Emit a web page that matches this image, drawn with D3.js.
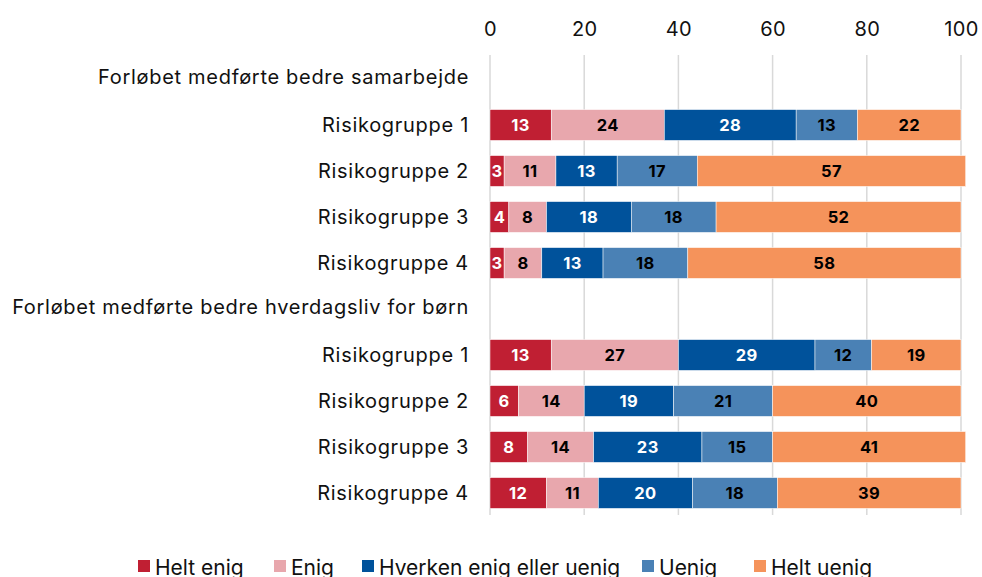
<!DOCTYPE html>
<html>
<head>
<meta charset="utf-8">
<script src="https://cdn.jsdelivr.net/npm/d3@7"></script>
<style>
  body { margin: 0; background: #fff; }
  svg { display: block; }
</style>
</head>
<body>
<svg></svg>
<script>
const WIDTH = 982;
const HEIGHT = 577;

// rows, headers have no values
const rows = [
  'Forløbet medførte bedre samarbejde',
  'Risikogruppe 1', 'Risikogruppe 2', 'Risikogruppe 3', 'Risikogruppe 4',
  'Forløbet medførte bedre hverdagsliv for børn',
  'Risikogruppe 1', 'Risikogruppe 2', 'Risikogruppe 3', 'Risikogruppe 4'
];
const isHeader = [true, false, false, false, false, true, false, false, false, false];

const series = ['Helt enig', 'Enig', 'Hverken enig eller uenig', 'Uenig', 'Helt uenig'];
const colors = ['#C01F33', '#E8A7AD', '#00529B', '#4A81B5', '#F5935B'];
const labelColors = ['#fff', '#000', '#fff', '#000', '#000'];

const heltEnig = [null, 13, 3, 4, 3, null, 13, 6, 8, 12];
const enig     = [null, 24, 11, 8, 8, null, 27, 14, 14, 11];
const hverken  = [null, 28, 13, 18, 13, null, 29, 19, 23, 20];
const uenig    = [null, 13, 17, 18, 18, null, 12, 21, 15, 18];
const heltUenig= [null, 22, 57, 52, 58, null, 19, 40, 41, 39];

const tickValues = [0, 20, 40, 60, 80, 100];

const values = [heltEnig, enig, hverken, uenig, heltUenig];

const svg = d3.select('svg')
  .attr('width', WIDTH)
  .attr('height', HEIGHT)
  .attr('font-family', 'Inter, sans-serif');

const xScale = d3.scaleLinear().domain([0, 100]).range([490, 961]);
const yScale = d3.scaleBand()
  .domain(d3.range(rows.length))
  .range([56, 516])
  .paddingInner(0.33)
  .paddingOuter(0.165);

// gridlines
svg.append('g')
  .selectAll('line')
  .data(tickValues)
  .enter()
  .append('line')
  .attr('x1', d => xScale(d))
  .attr('x2', d => xScale(d))
  .attr('y1', 55)
  .attr('y2', 515)
  .attr('stroke', '#d9d9d9')
  .attr('stroke-width', 1.5);

// top axis labels
const xAxis = d3.axisTop(xScale).tickValues(tickValues).tickSize(0).tickPadding(0);
const gx = svg.append('g')
  .attr('transform', 'translate(0, 36)')
  .call(xAxis);
gx.select('.domain').remove();
gx.selectAll('text')
  .attr('font-family', 'Inter, sans-serif')
  .attr('font-size', 20)
  .attr('letter-spacing', 0.3)
  .attr('fill', '#111');

// row labels
svg.append('g')
  .selectAll('text')
  .data(rows)
  .enter()
  .append('text')
  .attr('x', 469)
  .attr('y', (d, i) => yScale(i) + yScale.bandwidth() / 2 - (isHeader[i] ? 2 : 0))
  .attr('dy', '0.36em')
  .attr('text-anchor', 'end')
  .attr('font-size', 20)
  .attr('letter-spacing', 0.7)
  .attr('fill', '#111')
  .text(d => d);

// stacked segments
rows.forEach((r, i) => {
  if (isHeader[i]) return;
  let start = 0;
  values.forEach((arr, s) => {
    const v = arr[i];
    const x0 = xScale(start);
    const x1 = xScale(start + v);
    svg.append('rect')
      .attr('x', x0)
      .attr('y', yScale(i))
      .attr('width', x1 - x0)
      .attr('height', yScale.bandwidth())
      .attr('fill', colors[s])
      .attr('stroke', '#fff')
      .attr('stroke-width', 0.5);
    svg.append('text')
      .attr('x', (x0 + x1) / 2)
      .attr('y', yScale(i) + yScale.bandwidth() / 2)
      .attr('dy', '0.36em')
      .attr('text-anchor', 'middle')
      .attr('font-size', 16.5)
      .attr('font-weight', 700)
      .attr('letter-spacing', 0.4)
      .attr('fill', labelColors[s])
      .text(v);
    start += v;
  });
});

// legend
const legendX = [138, 274, 362, 642, 754];
const legend = svg.append('g');
series.forEach((s, i) => {
  legend.append('rect')
    .attr('x', legendX[i])
    .attr('y', 560)
    .attr('width', 12)
    .attr('height', 12)
    .attr('fill', colors[i]);
  legend.append('text')
    .attr('x', legendX[i] + 17)
    .attr('y', 575)
    .attr('font-size', 21)
    .attr('fill', '#111')
    .text(s);
});
</script>
</body>
</html>
